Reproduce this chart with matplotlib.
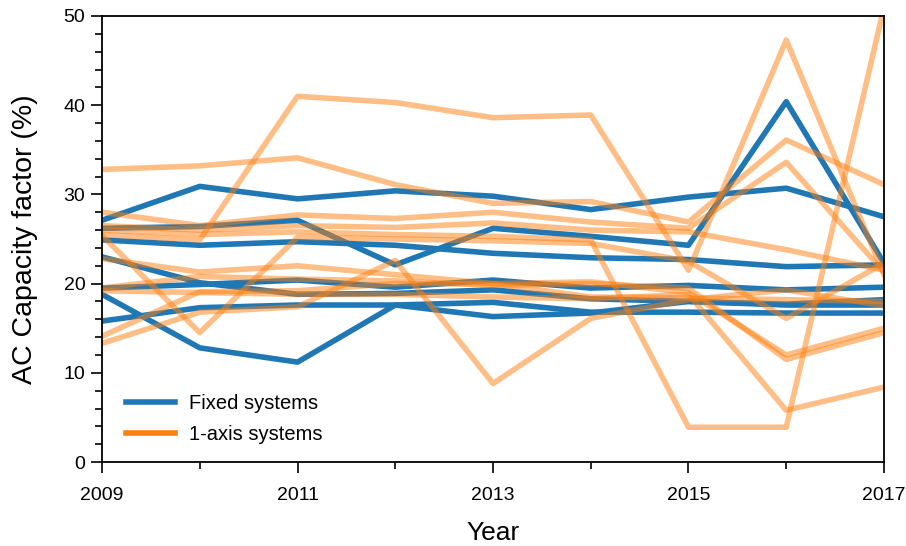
import numpy as np
import pandas as pd
import matplotlib
matplotlib.use('Agg')
import matplotlib.pyplot as plt
from matplotlib.ticker import MultipleLocator

plt.rcParams['font.family'] = ['Liberation Sans', 'DejaVu Sans']

years = np.arange(2009, 2018)

# AC capacity factor (%) per site, fixed-tilt systems
fixed = {
    'F1': [27.1, 30.9, 29.5, 30.4, 29.8, 28.3, 29.7, 30.7, 27.5],
    'F2': [26.2, 26.4, 27.1, 22.1, 26.2, 25.3, 24.3, 40.4, 22.3],
    'F3': [24.9, 24.3, 24.7, 24.3, 23.4, 22.9, 22.7, 21.9, 22.1],
    'F4': [23.0, 20.1, 18.8, 18.9, 19.3, 18.3, 18.0, 17.7, 18.2],
    'F5': [19.5, 19.9, 20.4, 19.6, 20.4, 19.5, 19.8, 19.3, 19.6],
    'F6': [18.8, 12.8, 11.2, 17.6, 16.3, 16.7, 18.0, 17.6, 17.6],
    'F7': [15.8, 17.3, 17.6, 17.6, 17.9, 16.8, 16.8, 16.7, 16.7],
}

# AC capacity factor (%) per site, single-axis tracking systems
tracking = {
    'T1': [32.8, 33.2, 34.1, 31.1, 29.0, 29.2, 26.9, 36.1, 31.1],
    'T2': [25.5, 24.9, 41.0, 40.3, 38.6, 38.9, 21.5, 47.3, 21.0],
    'T3': [25.4, 14.5, 25.2, 25.0, 24.8, 24.5, 22.5, 16.1, 22.3],
    'T4': [26.0, 25.5, 25.8, 25.5, 25.3, 24.9, 3.9, 3.9, 51.0],
    'T5': [28.0, 26.5, 27.7, 27.3, 28.0, 26.9, 26.2, 33.6, 21.3],
    'T6': [26.5, 26.0, 26.5, 26.3, 26.8, 26.0, 25.8, 23.8, 21.5],
    'T7': [22.8, 21.3, 22.0, 21.0, 20.0, 20.2, 19.0, 12.0, 15.0],
    'T8': [19.5, 20.8, 20.5, 20.3, 19.8, 20.0, 19.5, 11.5, 14.5],
    'T9': [19.2, 19.0, 18.8, 18.8, 18.5, 18.3, 18.8, 5.8, 8.4],
    'T10': [14.1, 19.1, 19.2, 20.0, 20.0, 18.5, 18.4, 18.2, 18.0],
    'T11': [13.3, 16.8, 17.4, 22.6, 8.8, 16.1, 18.2, 19.3, 17.5],
}

df_fixed = pd.DataFrame(fixed, index=years)
df_track = pd.DataFrame(tracking, index=years)

fig = plt.figure(figsize=(9.06, 5.46), dpi=100)
ax = fig.add_axes([0.1126, 0.1538, 0.8631, 0.8169])

lw = 4.0
for col in df_fixed.columns:
    ax.plot(df_fixed.index, df_fixed[col], color='#1f77b4', lw=lw)
for col in df_track.columns:
    ax.plot(df_track.index, df_track[col], color='#ff7f0e', lw=lw, alpha=0.5)

# legend handles drawn without transparency
ax.plot([], [], color='#1f77b4', lw=lw, label='Fixed systems')
ax.plot([], [], color='#ff7f0e', lw=lw, label='1-axis systems')
ax.legend(loc='lower left', frameon=False, fontsize=14.5,
          bbox_to_anchor=(0.008, 0.0), handlelength=2.4, handletextpad=0.7,
          labelspacing=0.6)

ax.set_xlim(2009, 2017)
ax.set_ylim(0, 50)
ax.set_xticks(np.arange(2009, 2018, 2))
ax.xaxis.set_minor_locator(MultipleLocator(1))
ax.yaxis.set_major_locator(MultipleLocator(10))
ax.yaxis.set_minor_locator(MultipleLocator(2))
ax.tick_params(axis='both', which='major', direction='out', length=8,
               width=1.2, labelsize=14, pad=10)
ax.tick_params(axis='both', which='minor', direction='out', length=5, width=1.2)
ax.tick_params(axis='y', pad=4)
for s in ax.spines.values():
    s.set_linewidth(1.3)

ax.set_xlabel('Year', fontsize=19, labelpad=12)
ax.set_ylabel('AC Capacity factor (%)', fontsize=20.5, labelpad=18)

fig.savefig('out.png', dpi=100)
